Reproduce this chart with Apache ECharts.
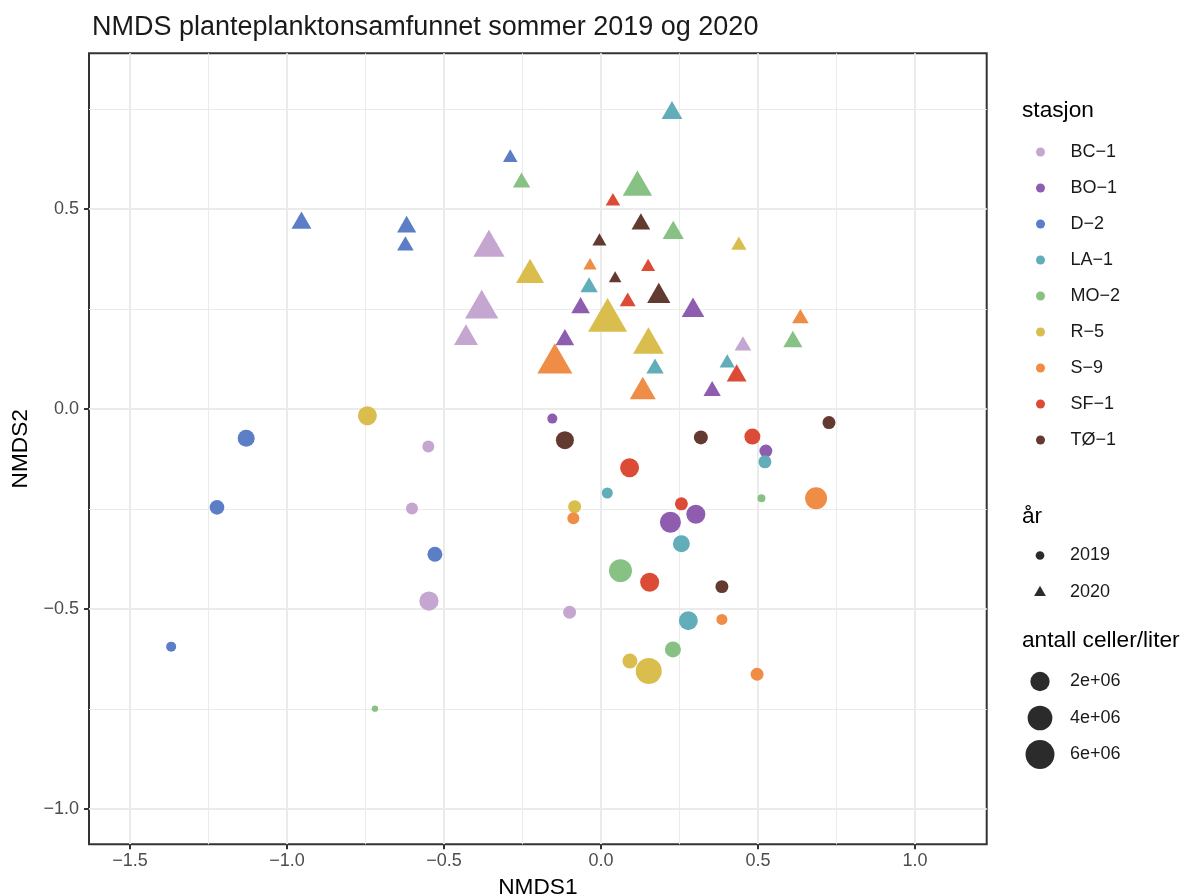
<!DOCTYPE html>
<html>
<head>
<meta charset="utf-8">
<script src="https://cdn.jsdelivr.net/npm/echarts@6/dist/echarts.min.js"></script>
<style>
  html, body { margin: 0; padding: 0; background: #ffffff; }
  #chart { width: 1189px; height: 896px; }
</style>
</head>
<body>
<div id="chart"></div>
<script>
// Stations and their colours
const stations = ['BC−1', 'BO−1', 'D−2', 'LA−1', 'MO−2', 'R−5', 'S−9', 'SF−1', 'TØ−1'];
const stationColors = ['#C4A6D1', '#8F5DAF', '#5B7EC6', '#62ADBA', '#87C184', '#D9BE4E', '#EF8C45', '#DC4B36', '#633A30'];

// Rows: [NMDS1, NMDS2, cells per litre, year]
const BC1 = [[-0.550, -0.094, 0.40e6, 2019], [-0.602, -0.249, 0.40e6, 2019], [-0.548, -0.480, 1.99e6, 2019], [-0.100, -0.508, 0.54e6, 2019],
             [-0.357, 0.403, 3.40e6, 2020], [-0.380, 0.250, 3.98e6, 2020], [-0.430, 0.177, 1.56e6, 2020], [0.452, 0.158, 0.45e6, 2020]];
const BO1 = [[-0.155, -0.024, 0.18e6, 2019], [0.525, -0.105, 0.54e6, 2019], [0.302, -0.263, 1.90e6, 2019], [0.221, -0.283, 2.55e6, 2019],
             [-0.065, 0.253, 0.69e6, 2020], [0.293, 0.246, 1.31e6, 2020], [-0.115, 0.173, 0.69e6, 2020], [0.354, 0.045, 0.53e6, 2020]];
const D2  = [[-1.130, -0.073, 1.36e6, 2019], [-1.223, -0.246, 0.84e6, 2019], [-0.529, -0.363, 0.90e6, 2019], [-1.369, -0.594, 0.18e6, 2019],
             [-0.289, 0.628, 0.26e6, 2020], [-0.954, 0.465, 0.86e6, 2020], [-0.619, 0.455, 0.76e6, 2020], [-0.623, 0.408, 0.45e6, 2020]];
const LA1 = [[0.522, -0.132, 0.54e6, 2019], [0.020, -0.210, 0.28e6, 2019], [0.256, -0.337, 1.36e6, 2019], [0.278, -0.529, 1.90e6, 2019],
             [0.226, 0.740, 0.99e6, 2020], [-0.038, 0.304, 0.53e6, 2020], [0.172, 0.101, 0.53e6, 2020], [0.402, 0.115, 0.32e6, 2020]];
const MO2 = [[-0.720, -0.749, 0.02e6, 2019], [0.511, -0.223, 0.05e6, 2019], [0.062, -0.404, 3.28e6, 2019], [0.229, -0.601, 1.12e6, 2019],
             [-0.253, 0.566, 0.53e6, 2020], [0.116, 0.554, 2.83e6, 2020], [0.230, 0.440, 1.07e6, 2020], [0.611, 0.168, 0.76e6, 2020]];
const R5  = [[-0.744, -0.017, 1.90e6, 2019], [-0.084, -0.244, 0.54e6, 2019], [0.092, -0.630, 0.90e6, 2019], [0.152, -0.655, 4.56e6, 2019],
             [-0.226, 0.335, 2.47e6, 2020], [0.439, 0.409, 0.32e6, 2020], [0.021, 0.221, 6.05e6, 2020], [0.151, 0.160, 3.20e6, 2020]];
const S9  = [[0.685, -0.223, 2.90e6, 2019], [-0.088, -0.273, 0.40e6, 2019], [0.385, -0.526, 0.28e6, 2019], [0.497, -0.663, 0.54e6, 2019],
             [-0.035, 0.358, 0.17e6, 2020], [-0.147, 0.114, 4.56e6, 2020], [0.133, 0.043, 1.99e6, 2020], [0.635, 0.226, 0.45e6, 2020]];
const SF1 = [[0.482, -0.069, 1.12e6, 2019], [0.091, -0.147, 1.90e6, 2019], [0.256, -0.237, 0.54e6, 2019], [0.155, -0.433, 1.90e6, 2019],
             [0.038, 0.519, 0.26e6, 2020], [0.150, 0.355, 0.22e6, 2020], [0.085, 0.268, 0.38e6, 2020], [0.432, 0.083, 0.86e6, 2020]];
const TO1 = [[-0.115, -0.078, 1.62e6, 2019], [0.318, -0.071, 0.71e6, 2019], [0.726, -0.034, 0.54e6, 2019], [0.385, -0.444, 0.54e6, 2019],
             [0.127, 0.462, 0.69e6, 2020], [-0.005, 0.419, 0.22e6, 2020], [0.045, 0.326, 0.13e6, 2020], [0.184, 0.282, 1.43e6, 2020]];
const stationData = [BC1, BO1, D2, LA1, MO2, R5, S9, SF1, TO1];

// Axis ticks and grid positions
const xTicks = [-1.5, -1.0, -0.5, 0.0, 0.5, 1.0];
const yTicks = [-1.0, -0.5, 0.0, 0.5];
const xMinorGrid = [-1.25, -0.75, -0.25, 0.25, 0.75];
const yMinorGrid = [-0.75, -0.25, 0.25, 0.75];

// Legend entries
const years = ['2019', '2020'];
const sizeBreaks = [2e6, 4e6, 6e6];
const sizeBreakLabels = ['2e+06', '4e+06', '6e+06'];

const FONT = '"Liberation Sans", Arial, Helvetica, sans-serif';
const SIZE_DOMAIN = [0.02e6, 6.6e6];

// Circle diameter (px) from cell count: area-scaled between the smallest and largest point
function diameter(v) {
  const r = Math.max(0, (v - SIZE_DOMAIN[0]) / (SIZE_DOMAIN[1] - SIZE_DOMAIN[0]));
  return 6.3 + 23.7 * Math.sqrt(r);
}
// Triangle of equal area, anchored at its centroid
function triangleSize(d) {
  const w = 1.347 * d;
  const h = 0.866 * w;
  return { size: [w, h], offset: [0, -h / 6] };
}
function fmt(v) { return v.toFixed(1).replace('-', '−'); }

const chart = echarts.init(document.getElementById('chart'), null, { renderer: 'canvas' });

// Panel grid lines (major and minor), kept underneath the points
const series = [{
  type: 'scatter',
  name: 'grid',
  data: [],
  silent: true,
  z: 0,
  zlevel: 0,
  markLine: {
    silent: true,
    symbol: 'none',
    animation: false,
    z: 0,
    zlevel: 0,
    label: { show: false },
    emphasis: { disabled: true },
    data: [
      ...xMinorGrid.map(v => ({ xAxis: v, lineStyle: { color: '#ebebeb', width: 1, type: 'solid' } })),
      ...yMinorGrid.map(v => ({ yAxis: v, lineStyle: { color: '#ebebeb', width: 1, type: 'solid' } })),
      ...xTicks.map(v => ({ xAxis: v, lineStyle: { color: '#ebebeb', width: 2, type: 'solid' } })),
      ...yTicks.map(v => ({ yAxis: v, lineStyle: { color: '#ebebeb', width: 2, type: 'solid' } }))
    ]
  }
}];

stations.forEach((name, i) => {
  series.push({
    type: 'scatter',
    name: name,
    z: 10,
    zlevel: 0,
    itemStyle: { color: stationColors[i], opacity: 1 },
    emphasis: { disabled: true },
    data: stationData[i].map(row => {
      const d = diameter(row[2]);
      if (row[3] === 2020) {
        const t = triangleSize(d);
        return { value: row, symbol: 'triangle', symbolSize: t.size, symbolOffset: t.offset };
      }
      return { value: row, symbol: 'circle', symbolSize: d };
    })
  });
});

// Legend blocks for year (shape) and cell count (size)
const graphic = [
  { type: 'text', x: 1022, y: 111, style: { text: 'stasjon', font: '22.7px ' + FONT, fill: '#000', verticalAlign: 'middle' } },
  { type: 'text', x: 1022, y: 517, style: { text: 'år', font: '22.7px ' + FONT, fill: '#000', verticalAlign: 'middle' } },
  { type: 'text', x: 1022, y: 641, style: { text: 'antall celler/liter', font: '22.7px ' + FONT, fill: '#000', verticalAlign: 'middle' } }
];
const keyD = 8.7;
years.forEach((yr, i) => {
  const cy = 555.5 + i * 37;
  if (i === 0) {
    graphic.push({ type: 'circle', shape: { cx: 1040, cy: cy, r: keyD / 2 }, style: { fill: '#2b2b2b' } });
  } else {
    const t = triangleSize(keyD);
    const w = t.size[0], h = t.size[1];
    const top = cy - h * 2 / 3;
    graphic.push({ type: 'polygon', shape: { points: [[1040, top], [1040 + w / 2, top + h], [1040 - w / 2, top + h]] }, style: { fill: '#2b2b2b' } });
  }
  graphic.push({ type: 'text', x: 1070, y: cy, style: { text: yr, font: '18px ' + FONT, fill: '#1a1a1a', verticalAlign: 'middle' } });
});
sizeBreaks.forEach((v, i) => {
  const cy = 681.5 + i * 36.5;
  graphic.push({ type: 'circle', shape: { cx: 1040, cy: cy, r: diameter(v) / 2 }, style: { fill: '#2b2b2b' } });
  graphic.push({ type: 'text', x: 1070, y: cy, style: { text: sizeBreakLabels[i], font: '18px ' + FONT, fill: '#1a1a1a', verticalAlign: 'middle' } });
});

chart.setOption({
  animation: false,
  backgroundColor: '#ffffff',
  textStyle: { fontFamily: FONT },
  title: {
    text: 'NMDS planteplanktonsamfunnet sommer 2019 og 2020',
    left: 87,
    top: 9,
    textStyle: { fontFamily: FONT, fontSize: 27, fontWeight: 'normal', color: '#1a1a1a' }
  },
  legend: {
    data: stations,
    orient: 'vertical',
    left: 1031,
    top: 138,
    icon: 'circle',
    itemWidth: 50,
    itemHeight: 9,
    itemGap: 18,
    selectedMode: false,
    textStyle: { fontFamily: FONT, fontSize: 18, color: '#1a1a1a' }
  },
  grid: {
    left: 89,
    right: 202.3,
    top: 53.3,
    bottom: 51.7,
    show: true,
    borderColor: '#333333',
    borderWidth: 2,
    backgroundColor: 'transparent',
    containLabel: false,
    outerBoundsMode: 'none'
  },
  xAxis: {
    type: 'value',
    min: -1.6306,
    max: 1.2283,
    position: 'bottom',
    name: 'NMDS1',
    nameLocation: 'middle',
    nameGap: 32,
    nameTextStyle: { fontFamily: FONT, fontSize: 22.7, color: '#000' },
    axisLine: { show: false, onZero: false },
    axisTick: { show: true, length: 5, customValues: xTicks, lineStyle: { color: '#333333', width: 2 } },
    axisLabel: { show: true, margin: 8, customValues: xTicks, formatter: v => fmt(v), fontFamily: FONT, fontSize: 18, color: '#4d4d4d' },
    splitLine: { show: false },
    minorSplitLine: { show: false }
  },
  yAxis: {
    type: 'value',
    min: -1.088,
    max: 0.889,
    position: 'left',
    name: 'NMDS2',
    nameLocation: 'middle',
    nameGap: 53,
    nameTextStyle: { fontFamily: FONT, fontSize: 22.7, color: '#000' },
    axisLine: { show: false, onZero: false },
    axisTick: { show: true, length: 5, customValues: yTicks, lineStyle: { color: '#333333', width: 2 } },
    axisLabel: { show: true, margin: 10, customValues: yTicks, formatter: v => fmt(v), fontFamily: FONT, fontSize: 18, color: '#4d4d4d' },
    splitLine: { show: false },
    minorSplitLine: { show: false }
  },
  graphic: graphic,
  series: series
});
</script>
</body>
</html>
